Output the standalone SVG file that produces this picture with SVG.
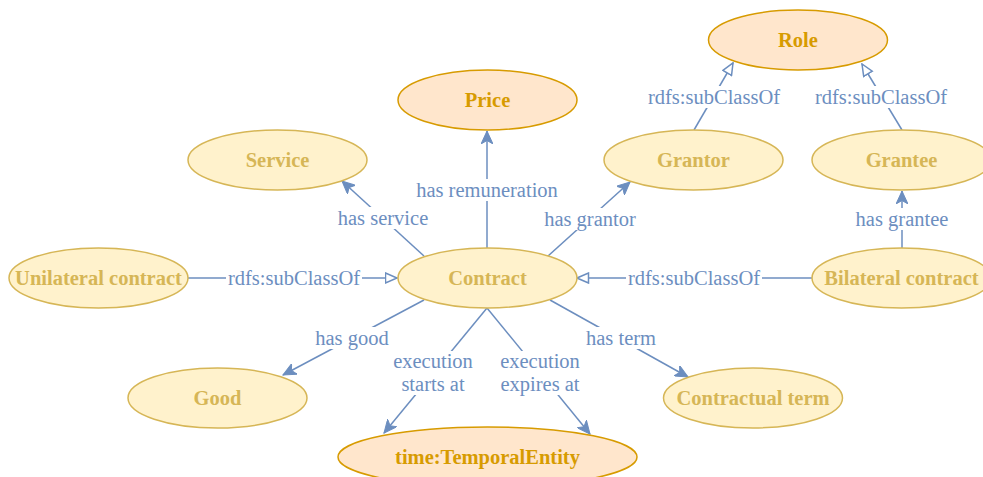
<svg xmlns="http://www.w3.org/2000/svg" width="983" height="477" viewBox="0 0 983 477">
  <style>
    .cls ellipse { stroke-width: 1.5; }
    .yel ellipse { fill: #fff2cc; stroke: #d6b656; }
    .org ellipse { fill: #ffe6cc; stroke: #d79b00; }
    .cls text { font-family: "Liberation Serif", "Times New Roman", serif; font-weight: bold; font-size: 20.5px; text-anchor: middle; dominant-baseline: central; }
    .yel text { fill: #d6b656; }
    .org text { fill: #d79b00; }
    .edges line, .edges path { stroke: #6c8ebf; stroke-width: 1.5; fill: none; }
    .rel { marker-end: url(#arrow); }
    .sub { marker-end: url(#hollow); }
    .lbl rect { fill: #ffffff; }
    .lbl text { font-family: "Liberation Serif", "Times New Roman", serif; font-size: 20.5px; fill: #6c8ebf; text-anchor: middle; dominant-baseline: central; }
  </style>
  <defs>
    <marker id="arrow" markerUnits="userSpaceOnUse" markerWidth="14" markerHeight="12" refX="13" refY="6" orient="auto" viewBox="0 0 14 12">
      <path d="M0,0 L13,6 L0,12 L3.5,6 z" fill="#6c8ebf" stroke="#6c8ebf" stroke-width="1"/>
    </marker>
    <marker id="hollow" markerUnits="userSpaceOnUse" markerWidth="14" markerHeight="12" refX="12.5" refY="6" orient="auto" viewBox="0 0 14 12">
      <path d="M1,1 L12.5,6 L1,11 z" fill="#ffffff" stroke="#6c8ebf" stroke-width="1.5"/>
    </marker>
  </defs>

  <rect width="983" height="477" fill="#ffffff"/>

  <!-- connectors -->
  <g id="connectors" class="edges">
    <line class="rel" x1="424" y1="256" x2="342" y2="181"/>
    <line class="rel" x1="487" y1="248" x2="487" y2="131"/>
    <line class="rel" x1="548" y1="256" x2="630" y2="182"/>
    <line class="sub" x1="694" y1="130" x2="733" y2="63"/>
    <line class="sub" x1="902" y1="130" x2="862" y2="64"/>
    <line class="rel" x1="902" y1="248" x2="902" y2="191"/>
    <line class="sub" x1="188" y1="278" x2="397" y2="278"/>
    <line class="sub" x1="812" y1="278" x2="577" y2="278"/>
    <line class="rel" x1="424" y1="300" x2="283" y2="375"/>
    <line class="rel" x1="487" y1="308" x2="384" y2="433"/>
    <line class="rel" x1="487" y1="308" x2="590" y2="434"/>
    <line class="rel" x1="550" y1="300" x2="688" y2="377"/>
  </g>

  <!-- connector labels -->
  <g id="labels" class="lbl">
    <rect x="336" y="207" width="94" height="22"/>
    <text x="383" y="218">has service</text>
    <rect x="415" y="179" width="145" height="22"/>
    <text x="487" y="190">has remuneration</text>
    <rect x="543" y="208" width="95" height="22"/>
    <text x="590" y="219">has grantor</text>
    <rect x="646" y="86" width="136" height="22"/>
    <text x="714" y="97">rdfs:subClassOf</text>
    <rect x="813" y="86" width="136" height="22"/>
    <text x="881" y="97">rdfs:subClassOf</text>
    <rect x="855" y="208" width="94" height="22"/>
    <text x="902" y="219">has grantee</text>
    <rect x="226" y="267" width="136" height="22"/>
    <text x="294" y="278">rdfs:subClassOf</text>
    <rect x="626" y="267" width="136" height="22"/>
    <text x="694" y="278">rdfs:subClassOf</text>
    <rect x="313" y="327" width="78" height="22"/>
    <text x="352" y="338">has good</text>
    <rect x="390" y="351" width="86" height="44"/>
    <text x="433" y="361">execution</text>
    <text x="433" y="384">starts at</text>
    <rect x="497" y="351" width="86" height="44"/>
    <text x="540" y="361">execution</text>
    <text x="540" y="384">expires at</text>
    <rect x="584" y="327" width="74" height="22"/>
    <text x="621" y="338">has term</text>
  </g>

  <!-- classes -->
  <g id="role" class="cls org">
    <ellipse cx="798" cy="40" rx="89.5" ry="30"/>
    <text x="798" y="40">Role</text>
  </g>
  <g id="price" class="cls org">
    <ellipse cx="487.5" cy="100" rx="89.5" ry="30"/>
    <text x="487.5" y="100">Price</text>
  </g>
  <g id="service" class="cls yel">
    <ellipse cx="277.5" cy="160" rx="89.5" ry="30"/>
    <text x="277.5" y="160">Service</text>
  </g>
  <g id="grantor" class="cls yel">
    <ellipse cx="693.5" cy="160" rx="89.5" ry="30"/>
    <text x="693.5" y="160">Grantor</text>
  </g>
  <g id="grantee" class="cls yel">
    <ellipse cx="901.5" cy="160" rx="89.5" ry="30"/>
    <text x="901.5" y="160">Grantee</text>
  </g>
  <g id="unilateral-contract" class="cls yel">
    <ellipse cx="98.5" cy="278" rx="89.5" ry="30"/>
    <text x="98.5" y="278">Unilateral contract</text>
  </g>
  <g id="contract" class="cls yel">
    <ellipse cx="487.5" cy="278" rx="89.5" ry="30"/>
    <text x="487.5" y="278">Contract</text>
  </g>
  <g id="bilateral-contract" class="cls yel">
    <ellipse cx="901.5" cy="278" rx="89.5" ry="30"/>
    <text x="901.5" y="278">Bilateral contract</text>
  </g>
  <g id="good" class="cls yel">
    <ellipse cx="217.5" cy="398" rx="89.5" ry="30"/>
    <text x="217.5" y="398">Good</text>
  </g>
  <g id="contractual-term" class="cls yel">
    <ellipse cx="753" cy="398" rx="89.5" ry="30"/>
    <text x="753" y="398">Contractual term</text>
  </g>
  <g id="temporal-entity" class="cls org">
    <ellipse cx="487.5" cy="457" rx="149.5" ry="30"/>
    <text x="487.5" y="457">time:TemporalEntity</text>
  </g>
</svg>
